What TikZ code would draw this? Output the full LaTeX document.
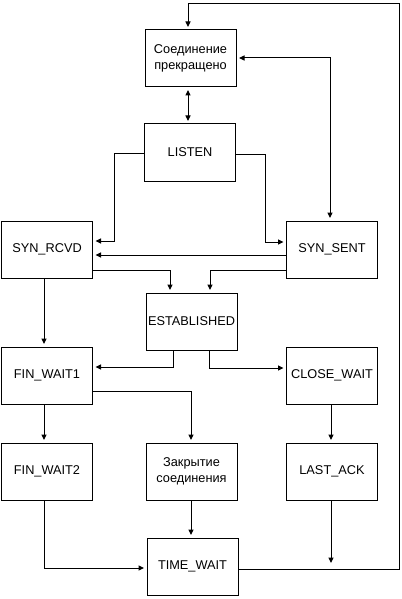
\documentclass[tikz,border=0pt]{standalone}
\usepackage{fontspec}
\setmainfont{Liberation Sans}
\usetikzlibrary{arrows.meta}
\begin{document}
\begin{tikzpicture}[x=1bp,y=-1bp,
  box/.style={draw,line width=1bp,minimum width=91bp,minimum height=57bp,inner sep=0pt,align=center,
    font=\fontsize{12.8}{16.5}\selectfont},
  conn/.style={line width=1bp,-{Triangle[length=5.5bp,width=5bp]},shorten >=2.5bp},
  dconn/.style={line width=1bp,{Triangle[length=5.5bp,width=5bp]}-{Triangle[length=5.5bp,width=5bp]},shorten >=2.5bp,shorten <=2.5bp}]
\useasboundingbox (0,0) rectangle (401,599);
\node[box] (closed) at (190.5,58.5) {Соединение\\прекращено};
\node[box] (listen) at (190,152.5) {LISTEN};
\node[box] (rcvd) at (47,249.5) {SYN\_RCVD};
\node[box] (sent) at (332,249.5) {SYN\_SENT};
\node[box] (est) at (191.5,321.5) {ESTABLISHED};
\node[box] (fw1) at (47,375.5) {FIN\_WAIT1};
\node[box] (cw) at (332,375.5) {CLOSE\_WAIT};
\node[box] (fw2) at (47,471.5) {FIN\_WAIT2};
\node[box] (closing) at (191.5,471.5) {Закрытие\\соединения};
\node[box] (lack) at (332,471.5) {LAST\_ACK};
\node[box] (tw) at (192.5,566.5) {TIME\_WAIT};
\coordinate (lackend) at (331,563);
% top loop
\draw[conn] (tw.east |- 0,569) -| (399,4) -| (closed.north -| 188,0);
% closed <-> listen
\draw[dconn] (closed.south -| 188,0) -- (listen.north -| 188,0);
% closed <-> syn_sent
\draw[dconn] (closed.east |- 0,58) -| (sent.north -| 330,0);
% listen -> syn_rcvd
\draw[conn] (listen.west |- 0,154) -| (114,241) -- (rcvd.east |- 0,241);
% listen -> syn_sent
\draw[conn] (listen.east |- 0,155) -| (265,242) -- (sent.west |- 0,242);
% sent -> rcvd
\draw[conn] (sent.west |- 0,255) -- (rcvd.east |- 0,255);
% rcvd -> est
\draw[conn] (rcvd.east |- 0,270) -| (est.north -| 170,0);
% sent -> est
\draw[conn] (sent.west |- 0,270) -| (est.north -| 210,0);
% rcvd -> fw1
\draw[conn] (rcvd.south -| 44,0) -- (fw1.north -| 44,0);
% est -> fw1
\draw[conn] (est.south -| 173,0) |- (fw1.east |- 0,367);
% est -> cw
\draw[conn] (est.south -| 209,0) |- (cw.west |- 0,368);
% fw1 -> closing
\draw[conn] (fw1.east |- 0,391) -| (closing.north -| 191,0);
% fw1 -> fw2
\draw[conn] (fw1.south -| 44,0) -- (fw2.north -| 44,0);
% cw -> lack
\draw[conn] (cw.south -| 331,0) -- (lack.north -| 331,0);
% closing -> tw
\draw[conn] (closing.south -| 191,0) -- (tw.north -| 191,0);
% fw2 -> tw
\draw[conn] (fw2.south -| 44,0) |- (tw.west |- 0,568);
% lack -> free end
\draw[conn,shorten >=0pt] (lack.south -| 331,0) -- (lackend);
\end{tikzpicture}
\end{document}
